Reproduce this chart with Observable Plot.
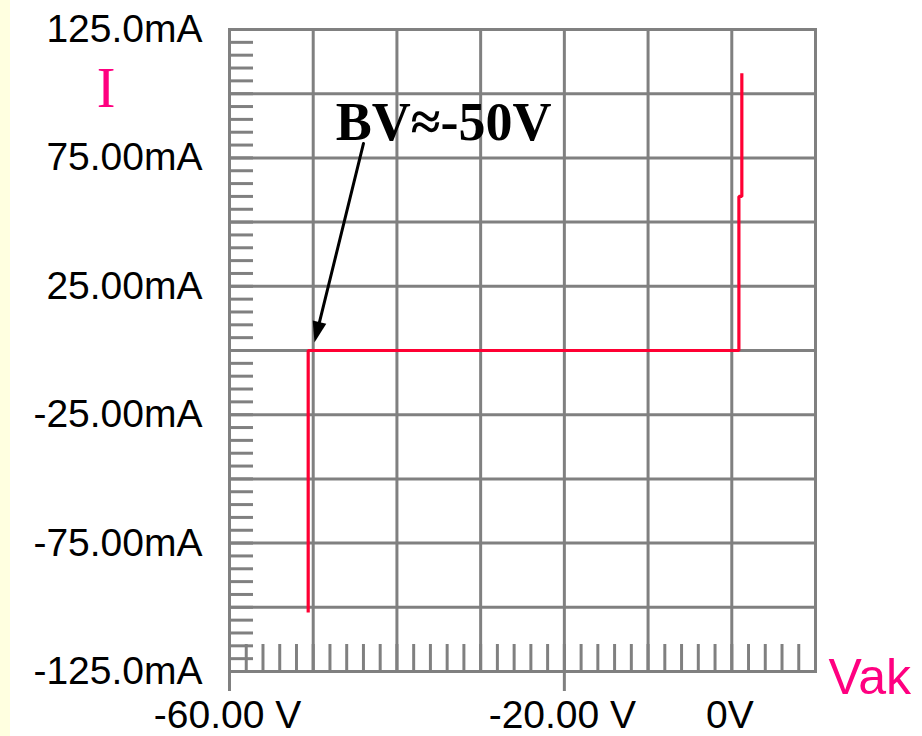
<!DOCTYPE html>
<html>
<head>
<meta charset="utf-8">
<script src="https://cdn.jsdelivr.net/npm/d3@7"></script>
<script src="https://cdn.jsdelivr.net/npm/@observablehq/plot@0.6"></script>
<style>
  html, body { margin: 0; padding: 0; }
  body { width: 922px; height: 736px; overflow: hidden;
         background: linear-gradient(to right, #FFFFE0 0px, #FFFFE0 10px, #ffffff 10px); }
  #chart svg { display: block; }
</style>
</head>
<body>
<div id="chart"></div>
<script>
// ---- data ----
const vak = [-50.6, -50.6, 0.85, 0.85, 1.2, 1.2];          // V
const current = [-102, 0, 0, 60, 60, 108];                  // mA

// ---- ticks ----
const xGrid = [-60, -50, -40, -30, -20, -10, 0, 10];
const yGrid = [-125, -100, -75, -50, -25, 0, 25, 50, 75, 100, 125];
const xMinor = d3.range(-60, 10.001, 2);
const yMinor = d3.range(-125, 125.001, 5);
const xLabelTicks = [-60, -20, 0];
const xTickLabels = ["-60.00 V", "-20.00 V", "0V"];
const xLongTicks = [-60, -20];
const yLabelTicks = [125, 75, 25, -25, -75, -125];
const yTickLabels = ["125.0mA", "75.00mA", "25.00mA", "-25.00mA", "-75.00mA", "-125.0mA"];

// ---- annotation ----
const annText = ["BV≈-50V"];
const annAt = [{v: -47.3, i: 81.8}];
const arrowFrom = [{v: -44.0, i: 80.6}];
const arrowTo = [{v: -49.85, i: 3.1}];

const rows = vak.map((v, k) => ({v, i: current[k]}));
const gray = "#808080";
const W = 922, H = 736, mL = 229, mR = 107, mT = 29, mB = 65;
const frameW = W - mL - mR, frameH = H - mT - mB;

const chart = Plot.plot({
  width: W, height: H,
  marginLeft: mL, marginRight: mR, marginTop: mT, marginBottom: mB,
  style: {background: "transparent", color: "black", overflow: "visible"},
  x: {domain: [-60, 10], label: null},
  y: {domain: [-125, 125], label: null},
  marks: [
    Plot.ruleX(xGrid, {x: d => d, stroke: gray, strokeWidth: 3}),
    Plot.ruleY(yGrid, {y: d => d, stroke: gray, strokeWidth: 3}),
    Plot.tickX(xMinor, {x: d => d, insetTop: frameH - 27, stroke: gray, strokeWidth: 3}),
    Plot.tickY(yMinor, {y: d => d, insetRight: frameW - 24, stroke: gray, strokeWidth: 3}),
    Plot.axisX({ticks: xLongTicks, tickSize: 20, tickFormat: () => "", stroke: gray, strokeWidth: 3}),
    Plot.axisX({ticks: xLabelTicks, tickSize: 0, tickPadding: 29,
      tickFormat: d => xTickLabels[xLabelTicks.indexOf(d)],
      fontSize: 39, fontFamily: "Liberation Sans", fill: "black", dx: -2}),
    Plot.axisY({ticks: yLabelTicks, tickSize: 0, tickPadding: 27,
      tickFormat: d => yTickLabels[yLabelTicks.indexOf(d)],
      fontSize: 39, fontFamily: "Liberation Sans", fill: "black"}),
    Plot.frame({stroke: gray, strokeWidth: 3}),
    Plot.line(rows, {x: "v", y: "i", stroke: "#ff0033", strokeWidth: 3.2,
      strokeLinejoin: "miter", strokeLinecap: "butt"}),
    Plot.text(annText, {x: () => annAt[0].v, y: () => annAt[0].i, text: d => d,
      fontFamily: "Liberation Serif", fontWeight: "bold", fontSize: 54,
      textAnchor: "start", lineAnchor: "bottom", fill: "black"}),
    Plot.arrow(arrowFrom, {x1: "v", y1: "i", x2: () => arrowTo[0].v, y2: () => arrowTo[0].i,
      stroke: "black", strokeWidth: 3, headLength: 0, insetEnd: 14}),
    Plot.vector(arrowTo, {x: "v", y: "i", anchor: "end", length: 21, r: 7,
      rotate: 193.8, shape: "spike", fill: "black", stroke: "none"}),
    Plot.text(["Vak"], {text: d => d, frameAnchor: "bottom-right", dx: 13, dy: 22,
      textAnchor: "start", lineAnchor: "bottom", fontSize: 50,
      fontFamily: "Liberation Sans", fill: "#ff0080"}),
    Plot.text(["I"], {text: d => d, frameAnchor: "top-left", dx: -123.5, dy: 77,
      textAnchor: "middle", lineAnchor: "bottom", fontSize: 56,
      fontFamily: "Liberation Serif", fill: "#ff0080"})
  ]
});
document.getElementById("chart").appendChild(chart);
</script>
</body>
</html>
